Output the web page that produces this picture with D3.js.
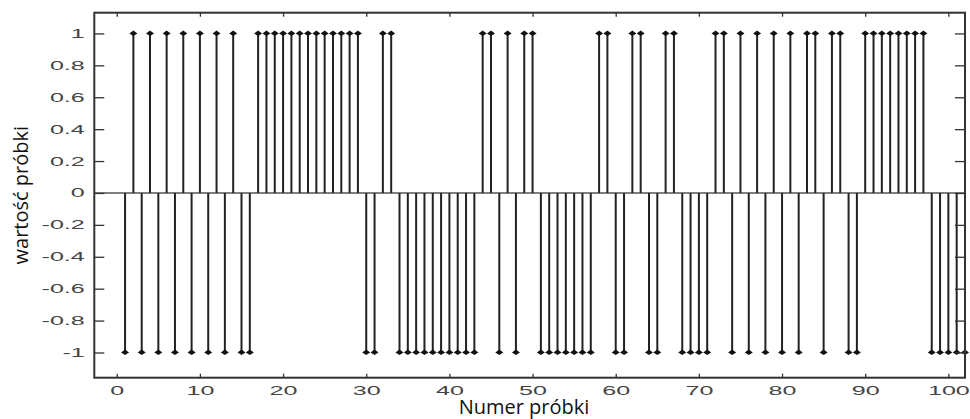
<!DOCTYPE html>
<html>
<head>
<meta charset="utf-8">
<script src="https://cdn.jsdelivr.net/npm/d3@7"></script>
<style>
  html, body { margin: 0; padding: 0; background: #fff; }
  svg { display: block; }
</style>
</head>
<body>
<svg id="chart" width="970" height="419"></svg>
<script>
// ---- data ----
const sampleIndex = d3.range(1, 103); // samples 1..102
const sampleValues = [
  -1, 1, -1, 1, -1, 1, -1, 1, -1, 1,          // 1-10
  -1, 1, -1, 1, -1, -1, 1, 1, 1, 1,           // 11-20
  1, 1, 1, 1, 1, 1, 1, 1, 1, -1,              // 21-30
  -1, 1, 1, -1, -1, -1, -1, -1, -1, -1,       // 31-40
  -1, -1, -1, 1, 1, -1, 1, -1, 1, 1,          // 41-50
  -1, -1, -1, -1, -1, -1, -1, 1, 1, -1,       // 51-60
  -1, 1, 1, -1, -1, 1, 1, -1, -1, -1,         // 61-70
  -1, 1, 1, -1, 1, -1, 1, -1, 1, -1,          // 71-80
  1, -1, 1, 1, -1, 1, 1, -1, -1, 1,           // 81-90
  1, 1, 1, 1, 1, 1, 1, -1, -1, -1,            // 91-100
  -1, -1                                      // 101-102
];
const xTicks = [0, 10, 20, 30, 40, 50, 60, 70, 80, 90, 100];
const yTicks = [-1, -0.8, -0.6, -0.4, -0.2, 0, 0.2, 0.4, 0.6, 0.8, 1];
const xLabel = "Numer próbki";
const yLabel = "wartość próbki";

// ---- layout ----
const L = 94.3, R = 965, T = 12.7, B = 377.7;
const svg = d3.select("#chart");
const x = d3.scaleLinear().domain([-2.7, 102]).range([L, R]);
const y = d3.scaleLinear().domain([-1.158, 1.130]).range([B, T]);
const tickFmt = d => d3.format("")(d).replace("−", "-");
const tickFont = "'Liberation Sans', Arial, sans-serif";
const tickSize = 12.5;

// measure natural width of "0.8" to derive the horizontal stretch of tick labels
const probe = svg.append("text")
  .attr("font-family", tickFont).attr("font-size", tickSize).text("0.8");
const SX = 35 / probe.node().getBBox().width;
probe.remove();

const data = sampleIndex.map((n, i) => ({ n, v: sampleValues[i] }));

// baseline
svg.append("line")
  .attr("x1", L).attr("x2", R)
  .attr("y1", y(0)).attr("y2", y(0))
  .attr("stroke", "#555").attr("stroke-width", 1.5);

// stems
svg.append("g").selectAll("line").data(data).join("line")
  .attr("x1", d => x(d.n)).attr("x2", d => x(d.n))
  .attr("y1", y(0)).attr("y2", d => y(d.v))
  .attr("stroke", "#222").attr("stroke-width", 2);

// markers
svg.append("g").selectAll("path").data(data).join("path")
  .attr("transform", d => `translate(${x(d.n)},${y(d.v)})`)
  .attr("d", "M0,-3 L4,0 L0,2.5 L-4,0 Z")
  .attr("fill", "#111");

// axes
function styleAxis(g) {
  g.select(".domain").remove();
  g.selectAll(".tick line").attr("stroke", "#333").attr("stroke-width", 1.3);
}
const bottom = svg.append("g").attr("transform", `translate(0,${B})`)
  .call(d3.axisBottom(x).tickValues(xTicks).tickSizeInner(-4).tickSizeOuter(0).tickPadding(8).tickFormat(tickFmt))
  .call(styleAxis);
svg.append("g").attr("transform", `translate(0,${T})`)
  .call(d3.axisTop(x).tickValues(xTicks).tickSizeInner(-4).tickSizeOuter(0).tickFormat(""))
  .call(styleAxis);
const left = svg.append("g").attr("transform", `translate(${L},0)`)
  .call(d3.axisLeft(y).tickValues(yTicks).tickSizeInner(-10).tickSizeOuter(0).tickFormat(tickFmt))
  .call(styleAxis);
svg.append("g").attr("transform", `translate(${R},0)`)
  .call(d3.axisRight(y).tickValues(yTicks).tickSizeInner(-10).tickSizeOuter(0).tickFormat(""))
  .call(styleAxis);

[bottom, left].forEach(g => g.selectAll(".tick text")
  .attr("font-family", tickFont)
  .attr("font-size", tickSize)
  .attr("fill", "#444"));

bottom.selectAll(".tick text")
  .attr("y", 0).attr("dy", "0.71em")
  .attr("transform", `translate(0,8) scale(${SX},1)`);
left.selectAll(".tick text")
  .attr("x", 0)
  .attr("transform", `translate(-9.5,0) scale(${SX},1)`);

// frame
svg.append("rect")
  .attr("x", L).attr("y", T).attr("width", R - L).attr("height", B - T)
  .attr("fill", "none").attr("stroke", "#333").attr("stroke-width", 2);

// labels
svg.append("text")
  .attr("x", 524).attr("y", 414)
  .attr("text-anchor", "middle")
  .attr("font-family", "'Open Sans', sans-serif")
  .attr("font-size", 20)
  .attr("fill", "#111")
  .text(xLabel);
svg.append("text")
  .attr("transform", `translate(28,${(T + B) / 2}) rotate(-90)`)
  .attr("text-anchor", "middle")
  .attr("font-family", "'Open Sans', sans-serif")
  .attr("font-size", 20)
  .attr("fill", "#111")
  .text(yLabel);
</script>
</body>
</html>
